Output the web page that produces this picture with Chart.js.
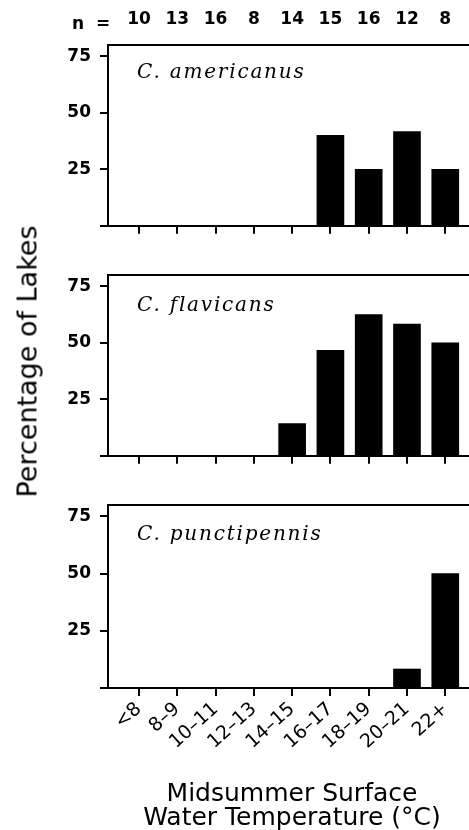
<!DOCTYPE html>
<html lang="en">
<head>
    <meta charset="UTF-8">
    <title>Chaoborus occurrence vs. midsummer surface water temperature</title>
    <script src="https://cdn.jsdelivr.net/npm/chart.js"></script>
    <style>
        body {
            margin: 0;
            background: #fff;
        }

        .figure {
            position: relative;
            width: 469px;
            height: 830px;
            overflow: hidden;
            color: #000;
        }

        .figure canvas {
            position: absolute;
            left: 0;
        }

        #panel1 { top: 0; }
        #panel2 { top: 245px; }
        #panel3 { top: 475px; }

        .y-title {
            position: absolute;
            left: -123px;
            top: 346px;
            width: 300px;
            line-height: 30px;
            text-align: center;
            font: 27px "DejaVu Sans", sans-serif;
            transform: rotate(-90deg);
            white-space: nowrap;
        }

        .x-title {
            position: absolute;
            left: 92px;
            top: 781px;
            width: 400px;
            text-align: center;
            font: 25px "DejaVu Sans", sans-serif;
            line-height: 24px;
        }
    </style>
</head>
<body>
    <div class="figure">
        <canvas id="panel1" width="469" height="245"></canvas>
        <canvas id="panel2" width="469" height="230"></canvas>
        <canvas id="panel3" width="469" height="355"></canvas>
        <div class="y-title">Percentage of Lakes</div>
        <div class="x-title">Midsummer Surface<br>Water Temperature (°C)</div>
    </div>

    <script>
        // temperature classes (deg C) and number of lakes in each
        const categories = ['<8', '8–9', '10–11', '12–13', '14–15', '16–17', '18–19', '20–21', '22+'];
        const lakeCounts = [10, 13, 16, 8, 14, 15, 16, 12, 8];

        // percentage of lakes with each species
        const americanus = [0, 0, 0, 0, 0, 40, 25, 41.7, 25];
        const flavicans = [0, 0, 0, 0, 14.3, 46.7, 62.5, 58.3, 50];
        const punctipennis = [0, 0, 0, 0, 0, 0, 0, 8.3, 50];

        const species = ['C. americanus', 'C. flavicans', 'C. punctipennis'];

        const xMin = -0.81;
        const xMax = 8.62;

        // writes the species name (and the "n =" prefix on the top panel)
        const panelText = {
            id: 'panelText',
            afterDraw(chart, args, opts) {
                const ctx = chart.ctx;
                const area = chart.chartArea;
                ctx.save();
                ctx.fillStyle = '#000';
                ctx.textBaseline = 'alphabetic';
                ctx.font = 'italic 20px "DejaVu Serif", serif';
                ctx.letterSpacing = '1.8px';
                ctx.fillText(opts.name, area.left + 29, area.top + opts.dy);
                if (opts.countPrefix) {
                    ctx.letterSpacing = '0px';
                    ctx.font = 'bold 17px "DejaVu Sans", sans-serif';
                    ctx.fillText('n', 72, 29);
                    ctx.fillText('=', 96, 29);
                }
                ctx.restore();
            }
        };

        function makePanel(id, values, name, cfg) {
            const black = '#000';
            return new Chart(document.getElementById(id), {
                type: 'bar',
                data: {
                    datasets: [{
                        data: values.map((v, i) => ({ x: i, y: v })),
                        xAxisID: 'x',
                        yAxisID: 'y',
                        backgroundColor: black,
                        borderWidth: 0,
                        barThickness: 27
                    }]
                },
                options: {
                    responsive: false,
                    animation: false,
                    layout: { padding: 0 },
                    plugins: {
                        legend: { display: false },
                        tooltip: { enabled: false },
                        panelText: { name: name, dy: cfg.labelDy, countPrefix: cfg.showCounts }
                    },
                    scales: {
                        x: {
                            type: 'linear',
                            position: 'bottom',
                            min: xMin,
                            max: xMax,
                            offset: false,
                            afterFit: s => { s.height = cfg.bottomH; },
                            ticks: {
                                display: cfg.showCategories,
                                stepSize: 1,
                                includeBounds: false,
                                autoSkip: false,
                                minRotation: 42,
                                maxRotation: 42,
                                padding: 2,
                                color: black,
                                font: { family: 'DejaVu Sans', size: 19 },
                                callback: v => categories[v] ?? ''
                            },
                            grid: {
                                offset: false,
                                drawOnChartArea: false,
                                drawTicks: true,
                                tickLength: 8,
                                color: black,
                                lineWidth: 2
                            },
                            border: { display: true, color: black, width: 2 }
                        },
                        xTop: {
                            type: 'linear',
                            position: 'top',
                            min: xMin,
                            max: xMax,
                            offset: false,
                            afterFit: s => { s.height = cfg.topH; },
                            ticks: {
                                display: cfg.showCounts,
                                stepSize: 1,
                                includeBounds: false,
                                autoSkip: false,
                                maxRotation: 0,
                                padding: 15,
                                color: black,
                                font: { family: 'DejaVu Sans', size: 17, weight: 'bold' },
                                callback: v => lakeCounts[v] ?? ''
                            },
                            grid: { display: false, offset: false, drawTicks: false },
                            border: { display: true, color: black, width: 2 }
                        },
                        y: {
                            min: 0,
                            max: 80,
                            afterFit: s => { s.width = 108; },
                            ticks: {
                                stepSize: 25,
                                includeBounds: false,
                                padding: 9,
                                color: black,
                                font: { family: 'DejaVu Sans', size: 17, weight: 'bold' },
                                callback: v => (v === 0 ? '' : v)
                            },
                            grid: {
                                drawOnChartArea: false,
                                drawTicks: true,
                                tickLength: 8,
                                color: black,
                                lineWidth: 2
                            },
                            border: { display: true, color: black, width: 2 }
                        }
                    }
                },
                plugins: [panelText]
            });
        }

        makePanel('panel1', americanus, species[0],
            { topH: 45, bottomH: 17, labelDy: 33, showCounts: true, showCategories: false });
        makePanel('panel2', flavicans, species[1],
            { topH: 30, bottomH: 16, labelDy: 36, showCounts: false, showCategories: false });
        makePanel('panel3', punctipennis, species[2],
            { topH: 30, bottomH: 142, labelDy: 35, showCounts: false, showCategories: true });
    </script>
</body>
</html>
